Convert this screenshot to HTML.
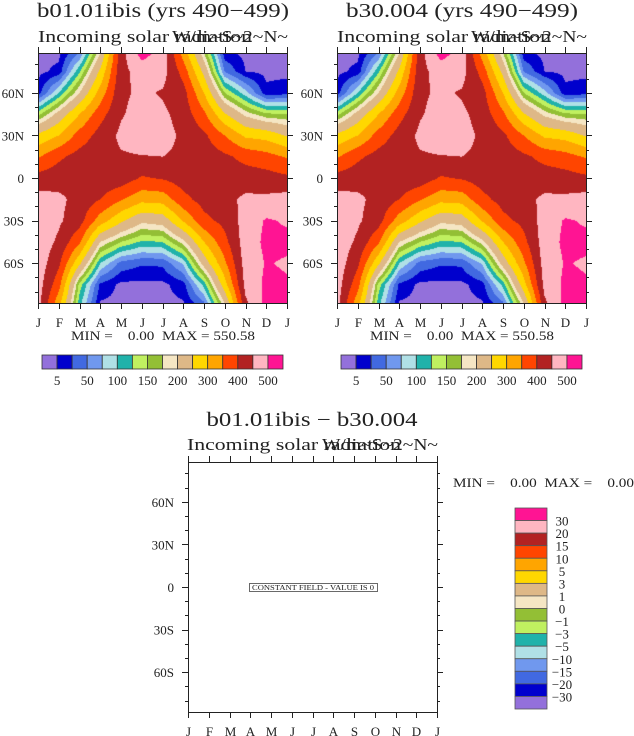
<!DOCTYPE html>
<html><head><meta charset="utf-8">
<style>
html,body{margin:0;padding:0;background:#fff;}
#wrap{position:relative;width:634px;height:736px;overflow:hidden;background:#fff;}
canvas{position:absolute;}
svg{position:absolute;left:0;top:0;}
text{font-family:"Liberation Serif",serif;fill:#222;white-space:pre;}
</style></head>
<body>
<div id="wrap">
<canvas id="c1" width="249" height="250" style="left:38px;top:53px"></canvas>
<canvas id="c2" width="249" height="250" style="left:337px;top:53px"></canvas>
<svg id="ov" width="634" height="736" xml:space="preserve"></svg>
</div>
<script>
// ---- data ----
const monthLabels = ["J","F","M","A","M","J","J","A","S","O","N","D","J"];
const latRows = [88,75,60,45,30,15,0,-15,-30,-45,-60,-75,-88];
const latTicks = [60,30,0,-30,-60];
const latTickLabels = ["60N","30N","0","30S","60S"];
const levels = [5,25,50,75,100,125,150,175,200,250,300,350,400,450,500];
const levelLabels = ["5","50","100","150","200","300","400","500"];
const diffLabels = ["30","20","15","10","5","3","1","0","\u22121","\u22123","\u22125","\u221210","\u221215","\u221220","\u221230"];
const palette = ["#9370DB","#0000CD","#4169E1","#7098EE","#B0E0E6","#20B2AA","#C0F060","#93BF35","#F5E6C4","#DEB887","#FFD700","#FFA500","#FF4500","#B22222","#FFB6C1","#FF1493"];
// insolation (W/m2) at each month boundary, rows 88N..88S
const colJan = [0,0,12,140,260,345,420,470,480,485,480,475,470];
const colFeb = [0,10,100,215,300,390,430,460,458,440,410,370,320];
const colMar = [50,120,200,300,370,420,435,435,420,360,260,140,110];
const colApr = [200,260,320,380,420,435,435,400,325,200,100,20,3];
const colMay = [430,435,440,445,460,445,430,355,260,150,40,0,0];
const colJun = [520,470,460,470,475,448,395,315,210,120,28,0,0];
const colJul = [480,470,445,460,470,450,405,320,220,125,30,0,0];
const colAug = [330,380,420,430,440,440,425,385,305,187,80,15,3];
const colSep = [175,235,300,360,410,430,430,420,385,300,220,110,45];
const colOct = [10,48,150,255,350,410,430,435,415,385,340,280,200];
const colNov = [0,5,85,190,290,385,425,460,470,475,472,465,440];
const colDec = [0,0,10,155,280,370,420,460,505,510,503,510,515];
const colJan2 = [0,0,15,150,245,345,410,470,495,510,495,505,515];
const grid = [colJan,colFeb,colMar,colApr,colMay,colJun,colJul,colAug,colSep,colOct,colNov,colDec,colJan2];
const minMaxText = "MIN =    0.00  MAX = 550.58";

// ---- helpers ----
const NS="http://www.w3.org/2000/svg";
const ov=document.getElementById('ov');
function mk(tag,attrs,parent){const e=document.createElementNS(NS,tag);for(const k in attrs)e.setAttribute(k,attrs[k]);(parent||ov).appendChild(e);return e;}
function txt(s,x,y,size,anchor,len,name){
  const a={x:x,y:y,'font-size':size,'text-anchor':anchor||'start'};
  if(len){a.textLength=len;a.lengthAdjust='spacingAndGlyphs';}
  const t=mk('text',a);t.textContent=s;
  t.setAttributeNS("http://www.w3.org/XML/1998/namespace","xml:space","preserve");
  
  
  return t;
}
function valueAt(t,lat){
  let i=Math.min(11,Math.max(0,Math.floor(t)));let ft=t-i;
  let j=0;while(j<latRows.length-2&&lat<latRows[j+1])j++;
  const fl=(latRows[j]-lat)/(latRows[j]-latRows[j+1]);
  const a=grid[i][j],b=grid[i][j+1],c=grid[i+1][j],d=grid[i+1][j+1];
  return (a*(1-fl)+b*fl)*(1-ft)+(c*(1-fl)+d*fl)*ft;
}
function colorIdx(v){let k=0;while(k<levels.length&&v>=levels[k])k++;return k;}
function hex(h){return [parseInt(h.substr(1,2),16),parseInt(h.substr(3,2),16),parseInt(h.substr(5,2),16)];}
const rgb=palette.map(hex);
function drawField(id){
  const c=document.getElementById(id),ctx=c.getContext('2d');
  const W=c.width,H=c.height,img=ctx.createImageData(W,H);
  for(let py=0;py<H;py++){const lat=88-(py+0.5)/H*176;
    for(let px=0;px<W;px++){const t=(px+0.5)/W*12;
      const col=rgb[colorIdx(valueAt(t,lat))];const o=(py*W+px)*4;
      img.data[o]=col[0];img.data[o+1]=col[1];img.data[o+2]=col[2];img.data[o+3]=255;}}
  ctx.putImageData(img,0,0);
}
function axes(x0,y0,w,h,name){
  const g=mk('g',{stroke:'#222','stroke-width':1,fill:'none'});
  
  
  mk('rect',{x:x0+0.5,y:y0+0.5,width:w,height:h},g);
  const ly=lat=>y0+(88-lat)/176*h;
  for(let lat=-80;lat<=80;lat+=10){
    const major=lat%30===0;const L=major?6:3;const y=Math.round(ly(lat))+0.5;
    mk('line',{x1:x0-L,y1:y,x2:x0,y2:y},g);
    mk('line',{x1:x0+w,y1:y,x2:x0+w+L,y2:y},g);
  }
  for(let m=0;m<=12;m++){const x=Math.round(x0+m*w/12)+0.5;
    mk('line',{x1:x,y1:y0-6,x2:x,y2:y0},g);
    mk('line',{x1:x,y1:y0+h,x2:x,y2:y0+h+6},g);
    txt(monthLabels[m],x,y0+h+24,13,'middle',null,'month-label');}
  latTicks.forEach((lat,i)=>txt(latTickLabels[i],x0-14,ly(lat)+5,13,'end',null,'lat-label'));
}
function hbar(x0,y0,w,h){
  const bw=w/palette.length;
  palette.forEach((c,i)=>{const r=mk('rect',{x:x0+i*bw,y:y0,width:bw,height:h,fill:c,stroke:'#333','stroke-width':0.8});
    
    });
  levelLabels.forEach((s,k)=>txt(s,x0+(2*k+1)*bw,y0+h+16,13,'middle',null,'colorbar-label'));
}

// ---- top panels ----
drawField('c1');drawField('c2');
[[0,"b01.01ibis (yrs 490\u2212499)"],[299,"b30.004 (yrs 490\u2212499)"]].forEach(([dx,title],p)=>{
  txt(title,163+dx,17,20,'middle',p===0?252:232,'panel-title');
  txt("Incoming solar radiation",38+dx,42,17,'start',214,'variable-name');
  txt("W/m~S~2~N~",288+dx,42,17,'end',116,'units');
  axes(38+dx,53,249,250,'plot-axes');
  txt(minMaxText,163+dx,340,13,'middle',184,'min-max-text');
  hbar(42+dx,355,241,14);
});

// ---- bottom difference panel ----
txt("b01.01ibis \u2212 b30.004",312,426,20,'middle',211,'diff-title');
txt("Incoming solar radiation",187,450,17,'start',214,'diff-variable-name');
txt("W/m~S~2~N~",438,450,17,'end',116,'diff-units');
axes(188,462,249,250,'diff-axes');
const cb=mk('rect',{x:249.5,y:583.5,width:128,height:8,fill:'#fff',stroke:'#444','stroke-width':0.8});


txt("CONSTANT FIELD - VALUE IS 0",313,590,7,'middle',122,'constant-field-label');
txt("MIN =    0.00  MAX =    0.00",453,487,13,'start',181,'diff-min-max');
const vbh=201/palette.length;
palette.slice().reverse().forEach((c,i)=>{const r=mk('rect',{x:515,y:508+i*vbh,width:32,height:vbh,fill:c,stroke:'#555','stroke-width':0.8});
  
  });
diffLabels.forEach((s,i)=>txt(s,562,508+(i+1)*vbh+5,13,'middle',null,'diff-colorbar-label'));
</script>
</body></html>
